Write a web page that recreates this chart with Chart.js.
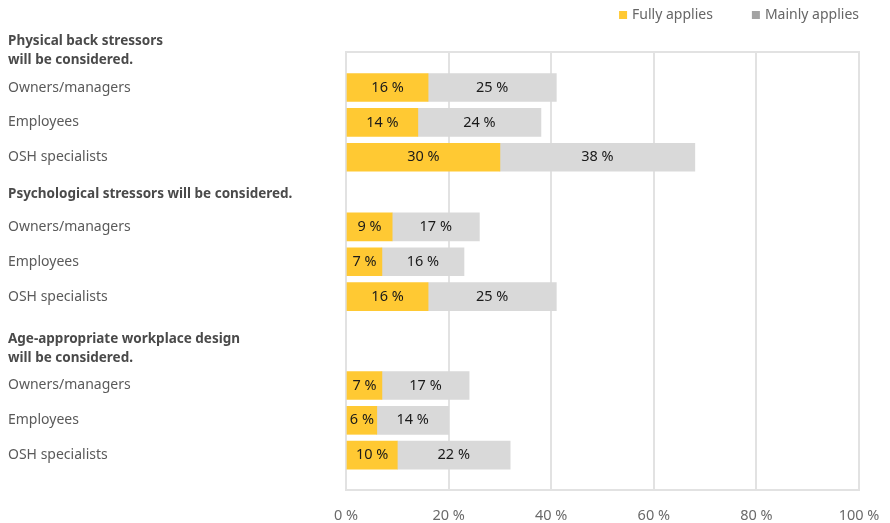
<!DOCTYPE html>
<html>
<head>
<meta charset="utf-8">
<script src="https://cdn.jsdelivr.net/npm/chart.js@4/dist/chart.umd.min.js"></script>
<style>
  html, body { margin: 0; padding: 0; background: #fff; overflow: hidden; }
  canvas { display: block; }
</style>
</head>
<body>
<canvas id="myChart" width="890" height="523"></canvas>
<script>
'use strict'

// Question blocks and the three respondent groups inside each block
const headers = [
  ['Physical back stressors', 'will be considered.'],
  ['Psychological stressors will be considered.'],
  ['Age-appropriate workplace design', 'will be considered.']
]
const groups = ['Owners/managers', 'Employees', 'OSH specialists']

// Share of answers per row, block by block
const fullyApplies = [16, 14, 30, 9, 7, 16, 7, 6, 10]
const mainlyApplies = [25, 24, 38, 17, 16, 25, 17, 14, 22]

const xTickValues = [0, 20, 40, 60, 80, 100]

const FONT = '"Noto Sans", sans-serif'
const YELLOW = '#ffc933'
const GREY = '#d9d9d9'
const GRID = '#e2e2e2'

// Row slots on the y scale: one unit per row, extra room above each block for its heading
const rowPos = []
const headerPos = []
let prev = -2.55
headers.forEach(h => {
  const first = prev + (h.length > 1 ? 2.55 : 2)
  headerPos.push(first - (h.length > 1 ? 1.05 : 0.93))
  groups.forEach((_, i) => rowPos.push(first + i))
  prev = first + groups.length - 1
})

const rowLabels = headers.flatMap(() => groups)

const frame = {
  id: 'frame',
  beforeDatasetsDraw (chart) {
    const { ctx, chartArea: a } = chart
    ctx.save()
    ctx.strokeStyle = GRID
    ctx.lineWidth = 2
    ctx.strokeRect(a.left, a.top, a.right - a.left, a.bottom - a.top)
    ctx.restore()
  }
}

// Small square markers, right aligned with the plot
const legendRow = {
  id: 'legendRow',
  afterDraw (chart) {
    const { ctx, chartArea: a } = chart
    const items = chart.data.datasets.map(ds => ({ text: ds.label, color: ds.legendColor }))
    ctx.save()
    ctx.font = '14px ' + FONT
    ctx.textBaseline = 'middle'
    ctx.textAlign = 'left'
    let x = a.right
    for (let i = items.length - 1; i >= 0; i--) {
      x -= ctx.measureText(items[i].text).width
      ctx.fillStyle = '#666'
      ctx.fillText(items[i].text, x, 15)
      ctx.fillStyle = items[i].color
      ctx.fillRect(x - 13, 11, 8, 8)
      x -= 13 + 39
    }
    ctx.restore()
  }
}

// Row names and bold block headings on the left
const sideLabels = {
  id: 'sideLabels',
  afterDraw (chart) {
    const { ctx } = chart
    const y = chart.scales.y
    ctx.save()
    ctx.textAlign = 'left'
    ctx.textBaseline = 'middle'
    ctx.fillStyle = '#5a5a5a'
    ctx.font = '14px ' + FONT
    rowLabels.forEach((t, i) => ctx.fillText(t, 8, y.getPixelForValue(rowPos[i])))
    ctx.fillStyle = '#4a4a4a'
    ctx.font = 'bold 13.5px ' + FONT
    headers.forEach((lines, g) => {
      const mid = y.getPixelForValue(headerPos[g])
      lines.forEach((t, k) => {
        ctx.fillText(t, 8, mid + (k - (lines.length - 1) / 2) * 19)
      })
    })
    ctx.restore()
  }
}

// Percent value centred inside each bar segment
const valueLabels = {
  id: 'valueLabels',
  afterDatasetsDraw (chart) {
    const { ctx } = chart
    ctx.save()
    ctx.textAlign = 'center'
    ctx.textBaseline = 'middle'
    ctx.fillStyle = '#1a1a1a'
    ctx.font = '14.5px ' + FONT
    chart.data.datasets.forEach((ds, d) => {
      chart.getDatasetMeta(d).data.forEach((bar, i) => {
        const x = (bar.x + bar.base) / 2
        ctx.fillText(ds.data[i].x + ' %', x, bar.y)
      })
    })
    ctx.restore()
  }
}

const ctx = document.getElementById('myChart')
// eslint-disable-next-line no-unused-vars
const myChart = new Chart(ctx, {
  type: 'bar',
  data: {
    datasets: [{
      label: 'Fully applies',
      data: fullyApplies.map((v, i) => ({ x: v, y: rowPos[i] })),
      backgroundColor: YELLOW,
      legendColor: YELLOW
    }, {
      label: 'Mainly applies',
      data: mainlyApplies.map((v, i) => ({ x: v, y: rowPos[i] })),
      backgroundColor: GREY,
      legendColor: '#a3a3a3'
    }]
  },
  options: {
    indexAxis: 'y',
    responsive: false,
    animation: false,
    barThickness: 28,
    borderWidth: 0,
    layout: {
      padding: { left: 346, right: 31, top: 52, bottom: 0 }
    },
    scales: {
      x: {
        stacked: true,
        min: 0,
        max: 100,
        afterBuildTicks: axis => { axis.ticks = xTickValues.map(v => ({ value: v })) },
        afterFit: axis => {
          axis.height = 33
          axis.paddingLeft = 0
          axis.paddingRight = 0
        },
        grid: { color: GRID, lineWidth: 2, drawTicks: false },
        border: { color: GRID, width: 2 },
        ticks: {
          padding: 17,
          color: '#6a6a6a',
          font: { family: FONT, size: 14.5 },
          callback: v => v + ' %'
        }
      },
      y: {
        type: 'linear',
        stacked: true,
        reverse: true,
        offset: false,
        min: -1.02,
        max: 11.55,
        display: false
      }
    },
    plugins: {
      legend: { display: false },
      tooltip: { enabled: false }
    }
  },
  plugins: [frame, legendRow, sideLabels, valueLabels]
})
</script>
</body>
</html>
